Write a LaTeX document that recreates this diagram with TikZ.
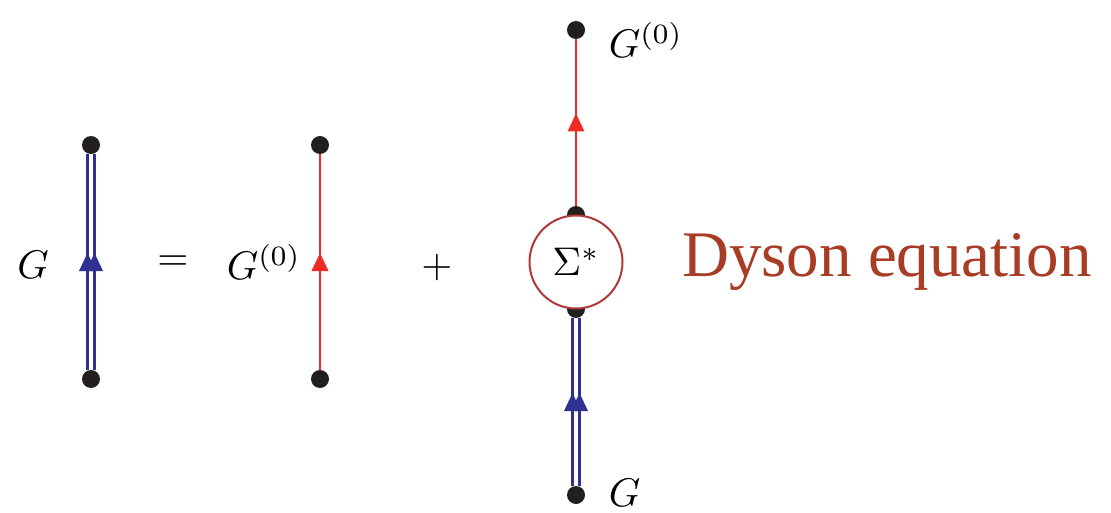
\documentclass[tikz,border=0pt]{standalone}
\usepackage{fontspec}
\newfontfamily\dysonfont{Liberation Serif}
\usetikzlibrary{decorations.markings}
\definecolor{pblue}{HTML}{2E3192}
\definecolor{pred}{HTML}{EE2A24}
\definecolor{dotc}{HTML}{231F20}
\definecolor{circc}{HTML}{B0383A}
\definecolor{dysonc}{HTML}{A93C24}
\tikzset{
  dot/.style={circle, fill=dotc, inner sep=0pt, minimum size=18pt},
  lbl/.style={inner sep=0pt, scale=4},
  freeprop/.style={draw=pred, line width=2.8pt, postaction={decorate},
    decoration={markings, mark=at position 0.5 with {\fill[pred] (9pt,0pt) -- (-9pt,8.5pt) -- (-9pt,-8.5pt) -- cycle;}}},
  fullprop/.style={draw=pblue, line width=2.8pt, double=white, double distance=4pt, postaction={decorate},
    decoration={markings, mark=at position 0.5 with {
      \fill[pblue] (9pt,3.5pt) -- (-9pt,12pt) -- (-9pt,-5pt) -- cycle;
      \fill[pblue] (9pt,-3.5pt) -- (-9pt,5pt) -- (-9pt,-12pt) -- cycle;}}},
}
\begin{document}
\begin{tikzpicture}[x=1pt, y=-1pt]
\useasboundingbox (0,0) rectangle (1111,513);
% left: full propagator
\node[dot] (a1) at (91,145) {};
\node[dot] (a2) at (91,379) {};
\draw[fullprop] (a2) -- (a1);
\node[lbl] (gl) at (33,265) {$G$};
\node[lbl] (eq) at (173,263) {$=$};
% middle: free propagator
\node[dot] (b1) at (320,145) {};
\node[dot] (b2) at (320,379) {};
\draw[freeprop] (b2) -- (b1);
\node[lbl] (g0m) at (264,262) {$G^{(0)}$};
\node[lbl] (plus) at (437,267) {$+$};
% right
\node[dot] (c1) at (576,30) {};
\node[dot] (st) at (576,215) {};
\node[dot] (sb) at (576,309) {};
\node[dot] (c2) at (576,495) {};
\draw[freeprop] (st) -- (c1);
\draw[fullprop] (c2) -- (sb);
\node[circle, draw=circc, line width=2pt, fill=white, minimum size=93pt, inner sep=0pt] (sigma) at (576,262) {};
\node[lbl] (sigtext) at (sigma.center) {$\Sigma^*$};
\node[lbl, anchor=west] (g0t) at (608,40) {$G^{(0)}$};
\node[lbl, anchor=west] (gb) at (608,493) {$G$};
\node[inner sep=0pt, text=dysonc, font=\dysonfont\fontsize{65}{78}\selectfont] (dyson) at (887,262) {Dyson equation};
\end{tikzpicture}
\end{document}
